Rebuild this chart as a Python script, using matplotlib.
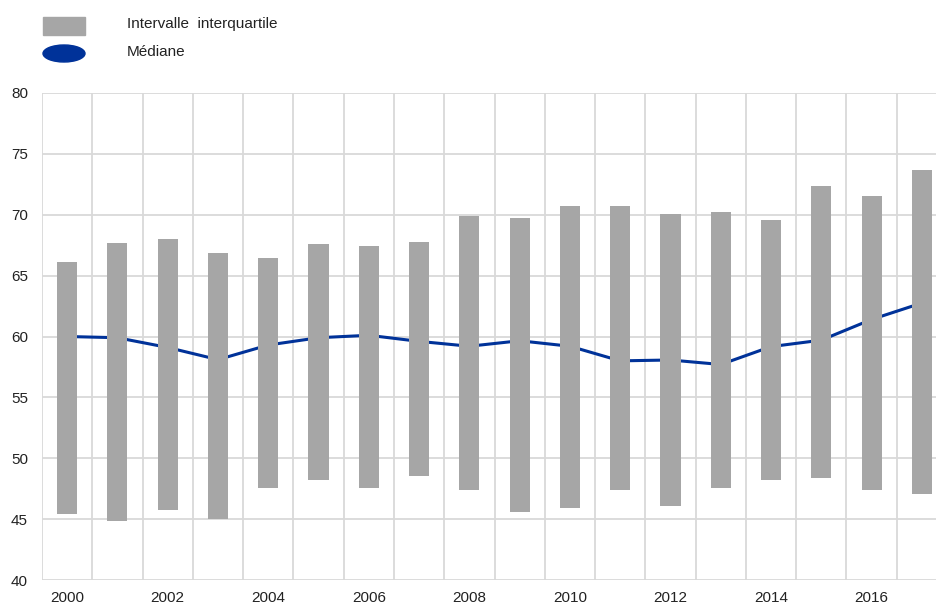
import numpy as np
import matplotlib
matplotlib.use('Agg')
import matplotlib.pyplot as plt
from matplotlib.patches import Rectangle, Ellipse

# years shown on the x axis
years = list(range(2000, 2018))

# interquartile range (bottom and top of each bar)
q_low = [45.4, 44.85, 45.75, 45.0, 47.55, 48.2, 47.55, 48.55, 47.4, 45.6,
         45.9, 47.4, 46.1, 47.55, 48.2, 48.4, 47.4, 47.1]
q_high = [66.1, 67.7, 68.0, 66.85, 66.45, 67.6, 67.4, 67.8, 69.9, 69.7,
          70.7, 70.75, 70.1, 70.25, 69.6, 72.4, 71.55, 73.7]

# median
median = [60.0, 59.9, 59.1, 58.1, 59.3, 59.9, 60.1, 59.6, 59.2, 59.65,
          59.2, 58.0, 58.07, 57.7, 59.17, 59.7, 61.4, 62.75]

bar_label = 'Intervalle  interquartile'
line_label = 'Médiane'

grey = '#a6a6a6'
blue = '#003299'
grid_col = '#d9d9d9'
txt_col = '#222222'

plt.rcParams['font.family'] = ['Liberation Sans', 'DejaVu Sans']

W, H = 936, 605
fig = plt.figure(figsize=(W / 100, H / 100), dpi=100)
ax = fig.add_axes([42 / W, 25 / H, 905 / W, 487 / H])

x = np.arange(len(years))
low = np.array(q_low)
high = np.array(q_high)

ax.plot(x, median, color=blue, lw=2.2, zorder=2, solid_capstyle='butt')
ax.bar(x, high - low, bottom=low, width=0.4, color=grey, zorder=3)

ax.set_xlim(-0.5, len(years) - 0.5)
ax.set_ylim(40, 80)
ax.set_yticks(np.arange(40, 81, 5))

ax.set_xticks(x[::2])
ax.set_xticklabels([str(y) for y in years[::2]])
ax.set_xticks(np.arange(-0.5, len(years), 1.0), minor=True)

ax.grid(True, which='major', axis='y', color=grid_col, lw=1.3, zorder=0)
ax.grid(True, which='minor', axis='x', color=grid_col, lw=1.3, zorder=0)
ax.grid(False, which='major', axis='x')
ax.set_axisbelow(True)

for s in ax.spines.values():
    s.set_visible(False)

ax.tick_params(axis='both', which='both', length=0, labelsize=11,
               colors=txt_col)
ax.tick_params(axis='x', pad=8)
ax.tick_params(axis='y', pad=10)

# legend drawn by hand at the top left
fig.patches.append(Rectangle((43 / W, 1 - 35 / H), 42 / W, 18 / H,
                             transform=fig.transFigure, color=grey))
fig.patches.append(Ellipse((64 / W, 1 - 53.5 / H), 42 / W, 17 / H,
                           transform=fig.transFigure, color=blue))
fig.text(127 / W, 1 - 24 / H, bar_label, fontsize=11, va='center',
         color=txt_col)
fig.text(127 / W, 1 - 52 / H, line_label, fontsize=11, va='center',
         color=txt_col)

fig.savefig('out.png', dpi=100)
